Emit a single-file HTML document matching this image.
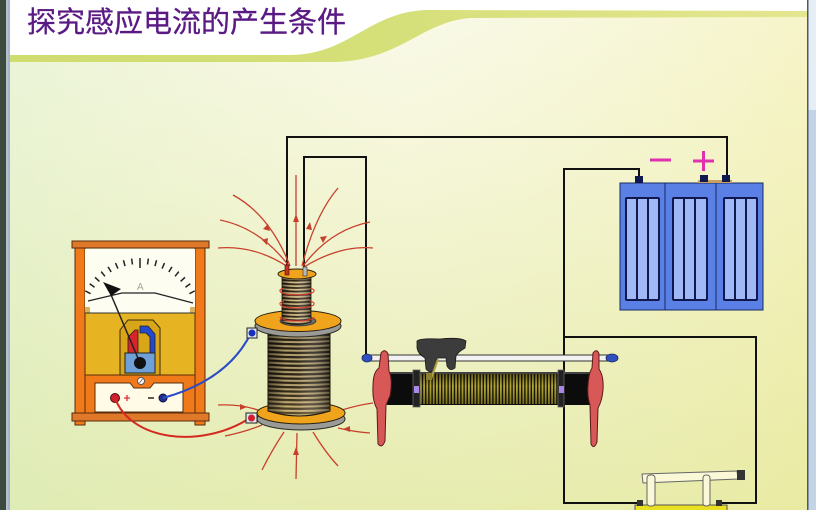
<!DOCTYPE html>
<html><head><meta charset="utf-8"><style>
html,body{margin:0;padding:0;width:816px;height:510px;overflow:hidden;background:#fff}
svg{display:block}
</style></head><body>
<svg width="816" height="510" viewBox="0 0 816 510" xmlns="http://www.w3.org/2000/svg">
<defs>
<linearGradient id="bgv" x1="0" y1="0" x2="0" y2="1">
<stop offset="0" stop-color="#fbfbee"/><stop offset="0.3" stop-color="#f6f7dc"/><stop offset="1" stop-color="#e5ebad"/>
</linearGradient>
<linearGradient id="bgh" x1="0" y1="0" x2="1" y2="0">
<stop offset="0" stop-color="#d4ecc0" stop-opacity="0.4"/><stop offset="0.5" stop-color="#eef0c0" stop-opacity="0.1"/><stop offset="1" stop-color="#f0ea90" stop-opacity="0.4"/>
</linearGradient>
<linearGradient id="band" x1="0" y1="0" x2="1" y2="0">
<stop offset="0" stop-color="#cfdc6e"/><stop offset="0.5" stop-color="#d6e07a"/><stop offset="1" stop-color="#e4e690"/>
</linearGradient>
<pattern id="wind" patternUnits="userSpaceOnUse" x="268" y="0" width="62" height="4.3">
<rect width="62" height="4.3" fill="#2e2416"/>
<path d="M0,1.4 Q31,3.6 62,1.4" stroke="#cfb87e" stroke-width="2" fill="none"/>
</pattern>
<pattern id="wind2" patternUnits="userSpaceOnUse" x="282" y="0" width="29" height="3.6">
<rect width="29" height="3.6" fill="#2e2416"/>
<path d="M0,1 Q14.5,2.6 29,1" stroke="#d2bc86" stroke-width="1.7" fill="none"/>
</pattern>
<linearGradient id="cyl" x1="0" y1="0" x2="1" y2="0">
<stop offset="0" stop-color="#000" stop-opacity="0.5"/><stop offset="0.3" stop-color="#000" stop-opacity="0"/><stop offset="0.55" stop-color="#fff" stop-opacity="0.08"/><stop offset="1" stop-color="#000" stop-opacity="0.5"/>
</linearGradient>
<linearGradient id="coilv" x1="0" y1="0" x2="0" y2="1">
<stop offset="0" stop-color="#000" stop-opacity="0.15"/><stop offset="0.55" stop-color="#000" stop-opacity="0.12"/><stop offset="1" stop-color="#e0c070" stop-opacity="0.25"/>
</linearGradient>
<pattern id="rwind" patternUnits="userSpaceOnUse" x="420" y="0" width="3.2" height="40">
<rect width="3.2" height="40" fill="#1a1808"/>
<rect width="1.8" height="40" fill="#b8aa34"/>
</pattern>
<linearGradient id="rshade" x1="0" y1="0" x2="0" y2="1">
<stop offset="0" stop-color="#000" stop-opacity="0.45"/><stop offset="0.4" stop-color="#000" stop-opacity="0"/><stop offset="1" stop-color="#000" stop-opacity="0.35"/>
</linearGradient>
</defs>

<rect x="0" y="0" width="816" height="510" fill="url(#bgv)"/>
<rect x="0" y="0" width="816" height="510" fill="url(#bgh)"/>
<path d="M10,0 L808,0 L808,11 L430,10 C370,10 350,55 290,55 L10,55 Z" fill="#ffffff"/>
<path d="M10,55 L290,55 C350,55 370,10 430,10 L808,11 L808,17 L470,18 C420,22 400,62 330,62 L10,62 Z" fill="url(#band)"/>

<rect x="0" y="0" width="6" height="510" fill="#3d4a40"/>
<rect x="6" y="0" width="2" height="510" fill="#b8c0c4"/>
<rect x="8" y="0" width="2" height="510" fill="#a4b4d0"/>
<rect x="807" y="0" width="1.5" height="510" fill="#4a5a6a"/>
<rect x="808.5" y="0" width="8" height="510" fill="#c4d4e6"/>
<rect x="808.5" y="0" width="8" height="110" fill="#e6edf4"/>

<text x="27" y="32" font-family="'Liberation Sans','Noto Sans CJK SC',sans-serif" font-size="29" fill="#5a1a84" stroke="#5a1a84" stroke-width="0.3">探究感应电流的产生条件</text>

<g fill="none" stroke="#111" stroke-width="2">
<path d="M287,270 L287,137 L727,137 L727,177"/>
<path d="M304,270 L304,157 L366,157 L366,357"/>
<path d="M639,177 L639,169 L564,169 L564,503 L640,503"/>
<path d="M564,337 L756,337 L756,503 L719,503"/>
</g>

<g stroke="#5a2c0c" stroke-width="1">
<rect x="75" y="247" width="10" height="178" fill="#f07a1a"/>
<rect x="195" y="247" width="10" height="178" fill="#f07a1a"/>
<rect x="85" y="249" width="110" height="64" fill="#fdfdf2" stroke="none"/>
<rect x="85" y="307" width="5" height="6" fill="#d8b060" stroke="none"/>
<rect x="190" y="307" width="5" height="6" fill="#d8b060" stroke="none"/>
<rect x="85" y="313" width="110" height="62" fill="#e6b422"/>
<rect x="85" y="375" width="110" height="38" fill="#f07a1a"/>
<rect x="72" y="241" width="137" height="7" fill="#e0782a"/>
<rect x="72" y="413" width="137" height="8" fill="#e0782a"/>
</g>
<path d="M140,258L140,268 M148.36,258.56L147.55,264.51 M131.64,258.56L132.45,264.51 M156.57,260.26L154.96,266.04 M123.43,260.26L125.04,266.04 M164.47,263.03L162.1,268.55 M115.53,263.03L117.9,268.55 M171.93,266.85L168.84,272 M108.07,266.85L111.16,272 M178.81,271.65L175.05,276.33 M101.19,271.65L104.95,276.33 M184.97,277.32L180.62,281.45 M95.03,277.32L99.38,281.45 M190.32,283.78L185.45,287.28 M89.68,283.78L94.55,287.28 M194.74,290.89L189.44,293.71 M85.26,290.89L90.56,293.71" stroke="#222" stroke-width="1.5" fill="none"/>
<text x="137" y="290" font-family="'Liberation Sans',sans-serif" font-size="10" fill="#a8a898">A</text>
<path d="M88,301 L122,293 L155,293 L193,303" stroke="#222" stroke-width="1.2" fill="none"/>
<line x1="85" y1="313" x2="195" y2="313" stroke="#333" stroke-width="1"/>
<polygon points="120,330 128,320 153,320 160,328 160,375 120,375" fill="#d8a618" stroke="#3a2a0a" stroke-width="1"/>
<polygon points="128,337 135,330 138,330 138,354 128,354" fill="#d8242a" stroke="#222" stroke-width="0.8"/>
<polygon points="140,326 148,326 155,334 155,354 150,354 150,337 146,333 140,333" fill="#2448d0" stroke="#222" stroke-width="0.8"/>
<rect x="125" y="353" width="30" height="20" fill="#6fa0d8" stroke="#222" stroke-width="1"/>
<line x1="140" y1="363" x2="109" y2="290" stroke="#222" stroke-width="1.5"/>
<polygon points="103,282 121,289 111,296" fill="#111"/>
<circle cx="140" cy="363" r="6" fill="#111"/>
<path d="M95,383 L130,383 L134,388 L150,388 L154,383 L183,383 L183,412 L95,412 Z" fill="#fffbe6" stroke="#5a2c0c" stroke-width="1"/>
<circle cx="141" cy="381" r="3.5" fill="#fff" stroke="#555" stroke-width="1"/>
<line x1="139.5" y1="383" x2="142.5" y2="379" stroke="#555" stroke-width="0.8"/>
<circle cx="115" cy="398" r="4.5" fill="#d02030" stroke="#4a1010" stroke-width="1"/>
<path d="M124,398 h6 M127,395 v6" stroke="#e03030" stroke-width="1.3"/>
<path d="M148,398 h6" stroke="#333" stroke-width="1.6"/>
<circle cx="163" cy="398" r="4" fill="#203090" stroke="#101040" stroke-width="1"/>

<path d="M251,333 Q228,380 163,398" stroke="#2a4ac8" stroke-width="2" fill="none"/>
<path d="M115,398 C130,440 200,450 250,418" stroke="#d42a20" stroke-width="2" fill="none"/>

<g fill="none" stroke="#c8402c" stroke-width="1.3">
<path d="M296,266 L296,175"/>
<path d="M290,266 Q270,215 233,195"/>
<path d="M289,266 Q260,228 220,220"/>
<path d="M288,267 Q255,245 218,248"/>
<path d="M302,266 Q315,215 338,188"/>
<path d="M303,266 Q330,230 370,222"/>
<path d="M304,267 Q340,245 373,248"/>
<path d="M218,405 Q240,404 258,410"/>
<path d="M225,436 Q245,432 262,425"/>
<path d="M342,410 Q358,405 373,403"/>
<path d="M338,428 Q355,432 370,433"/>
<path d="M284,432 Q272,450 262,470"/>
<path d="M297,433 L296,479"/>
<path d="M313,432 Q325,452 338,466"/>
</g>
<g fill="#c8402c">
<polygon points="296,214 293,222 299,222"/>
<polygon points="268,224 263,229 270,231"/>
<polygon points="268,238 262,240 267,245"/>
<polygon points="310,222 306,229 312,230"/>
<polygon points="327,236 320,237 323,243"/>
<polygon points="247,407 240,404 240,410"/>
<polygon points="343,429 350,426 350,432"/>
<polygon points="296,447 293,455 299,455"/>
</g>

<ellipse cx="301" cy="419" rx="44" ry="11" fill="#9a9a96" stroke="#2a2a20" stroke-width="1"/>
<ellipse cx="301" cy="413" rx="44" ry="11" fill="#f0a41c" stroke="#2a2010" stroke-width="1"/>
<path d="M268,322 L268,411 Q299,421 330,411 L330,322 Z" fill="url(#wind)"/>
<path d="M268,322 L268,411 Q299,421 330,411 L330,322 Z" fill="url(#coilv)"/>
<path d="M268,322 L268,411 Q299,421 330,411 L330,322 Z" fill="url(#cyl)" stroke="#1a1408" stroke-width="1"/>
<ellipse cx="298" cy="326" rx="43" ry="11" fill="#9a9a96" stroke="#2a2a20" stroke-width="1"/>
<ellipse cx="298" cy="321" rx="43" ry="10.5" fill="#f0a41c" stroke="#2a2010" stroke-width="1"/>
<ellipse cx="298" cy="321" rx="18" ry="5" fill="#6a6a6a" stroke="#333" stroke-width="0.8"/>
<rect x="247" y="328" width="10" height="10" fill="#dfe6ee" stroke="#222" stroke-width="1"/>
<circle cx="252" cy="333" r="3.5" fill="#1830c0"/>
<rect x="246" y="413" width="11" height="10" fill="#dfe6ee" stroke="#222" stroke-width="1"/>
<circle cx="251.5" cy="418" r="3.5" fill="#d02030"/>

<path d="M282,274 L282,322 Q296.5,327 311,322 L311,274 Z" fill="url(#wind2)"/>
<path d="M282,274 L282,322 Q296.5,327 311,322 L311,274 Z" fill="url(#cyl)" stroke="#1a1408" stroke-width="0.8"/>
<ellipse cx="297" cy="274" rx="19" ry="5" fill="#f0a41c" stroke="#2a2010" stroke-width="1"/>
<rect x="285" y="265" width="4" height="10" fill="#c83020" stroke="#3a1010" stroke-width="0.6"/>
<rect x="303" y="267" width="4" height="9" fill="#b8b8b8" stroke="#333" stroke-width="0.6"/>
<g fill="none" stroke="#d8342a" stroke-width="1.1">
<path d="M280,291 A17,4 0 0 0 314,291"/>
<path d="M280,304 A17,4 0 0 0 314,304"/>
<path d="M280,317 A17,4 0 0 0 314,317"/>
<path d="M280,291 A17,4 0 0 1 284,288 M314,291 A17,4 0 0 0 310,288"/>
<path d="M280,304 A17,4 0 0 1 284,301 M314,304 A17,4 0 0 0 310,301"/>
</g>

<rect x="387" y="372" width="206" height="33" fill="#0c0c0c"/>
<line x1="387" y1="373" x2="593" y2="373" stroke="#777" stroke-width="1"/>
<rect x="420" y="374" width="138" height="30" fill="url(#rwind)"/>
<rect x="420" y="374" width="138" height="30" fill="url(#rshade)"/>
<rect x="413" y="370" width="7" height="37" fill="#222" stroke="#666" stroke-width="0.8"/>
<rect x="558" y="370" width="6" height="37" fill="#222" stroke="#666" stroke-width="0.8"/>
<rect x="414" y="386" width="5" height="7" fill="#a888e8"/>
<rect x="559" y="386" width="5" height="7" fill="#a888e8"/>
<rect x="368" y="355" width="243" height="6" fill="#f2f2f2" stroke="#333" stroke-width="1"/>
<ellipse cx="367" cy="358" rx="5" ry="4" fill="#3050c0" stroke="#1a2a60" stroke-width="0.8"/>
<ellipse cx="612" cy="358" rx="6" ry="4" fill="#3050c0" stroke="#1a2a60" stroke-width="0.8"/>
<path d="M417,341 Q420,338 440,339 Q460,337 466,341 L465,348 Q458,352 456,356 L455,368 Q450,372 447,366 L446,358 L437,358 L434,370 Q430,374 426,369 L425,358 Q418,354 417,348 Z" fill="#3c3c3c" stroke="#1a1a1a" stroke-width="0.8"/>
<line x1="438" y1="359" x2="431" y2="379" stroke="#b0a040" stroke-width="2"/>
<rect x="426" y="373" width="6" height="7" fill="#8a8030"/>
<path d="M381,353 Q385,348 388,354 L389,371 Q393,380 390,396 L386,405 L385,441 Q382,449 378,444 L377,409 Q372,400 373,386 Q373,372 379,368 Z" fill="#d85858" stroke="#5a1a1a" stroke-width="1"/>
<path d="M593,353 Q597,348 599,354 L599,369 Q604,376 603,390 Q602,401 598,408 L597,442 Q594,450 591,444 L590,405 Q587,396 588,385 Q589,372 592,368 Z" fill="#d85858" stroke="#5a1a1a" stroke-width="1"/>

<rect x="620" y="183" width="45" height="127" fill="#5a80e6" stroke="#1a2a60" stroke-width="1"/>
<rect x="665" y="183" width="51" height="127" fill="#5a80e6" stroke="#1a2a60" stroke-width="1"/>
<rect x="716" y="183" width="47" height="127" fill="#5a80e6" stroke="#1a2a60" stroke-width="1"/>
<g fill="#a0b8f6" stroke="#101850" stroke-width="2">
<rect x="626" y="198" width="33" height="102" rx="1"/>
<rect x="673" y="198" width="34" height="102" rx="1"/>
<rect x="724" y="198" width="33" height="102" rx="1"/>
</g>
<path d="M637,198 V300 M648,198 V300 M684,198 V300 M695,198 V300 M735,198 V300 M746,198 V300" stroke="#101850" stroke-width="2"/>
<rect x="635" y="176" width="8" height="7" fill="#101850"/>
<rect x="698" y="180" width="34" height="3" fill="#c8a060"/>
<rect x="700" y="175" width="8" height="7" fill="#101850"/>
<rect x="722" y="175" width="8" height="7" fill="#101850"/>
<path d="M650,160 H671 M693,161 H714 M703.5,151 V171" stroke="#e030b0" stroke-width="3"/>

<rect x="635" y="505" width="92" height="7" fill="#e8e020" stroke="#555" stroke-width="1"/>
<rect x="637" y="500" width="6" height="6" fill="#333"/>
<rect x="716" y="500" width="6" height="6" fill="#333"/>
<polygon points="642,474 737,471 738,479 643,483" fill="#fbf8d8" stroke="#666" stroke-width="1"/>
<rect x="737" y="470" width="8" height="10" fill="#333"/>
<rect x="647" y="475" width="8" height="31" rx="3" fill="#fbf8d8" stroke="#666" stroke-width="1"/>
<rect x="703" y="475" width="7" height="31" rx="3" fill="#fbf8d8" stroke="#666" stroke-width="1"/>
</svg>
</body></html>
